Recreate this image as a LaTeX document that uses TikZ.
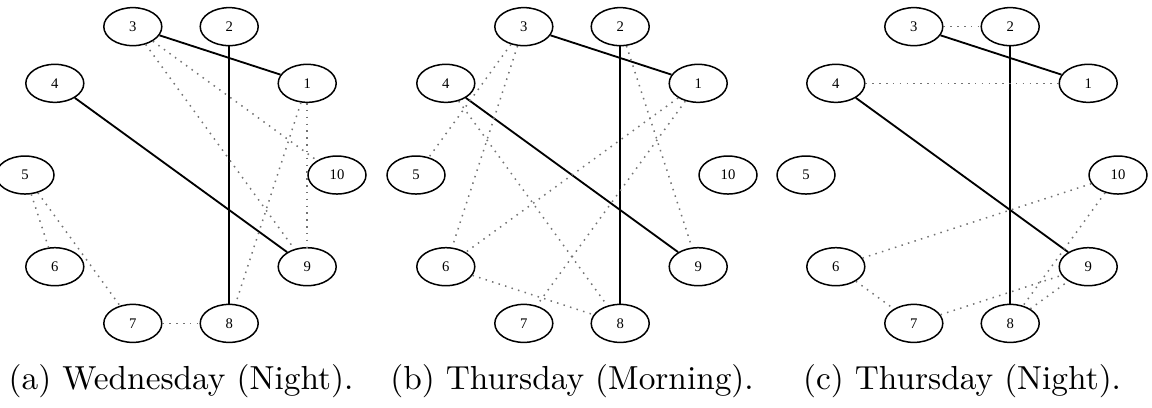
\documentclass[tikz,border=0pt]{standalone}
\usepackage{fontspec}
\newfontfamily\nodefont{Liberation Serif}
\usetikzlibrary{shapes.geometric}
\tikzset{
  vtx/.style={draw, ellipse, line width=0.45pt, inner sep=0pt,
    minimum width=17.4pt, minimum height=11.4pt,
    font=\nodefont\fontsize{4.4}{5}\selectfont},
  strong/.style={line width=0.55pt},
  weak/.style={draw=black!55, line width=0.45pt, dash pattern=on 0.45pt off 1.6pt},
  capt/.style={font=\fontsize{10}{12}\selectfont, inner sep=0pt}
}
\begin{document}
\begin{tikzpicture}[x=0.3pt,y=0.3pt]
\useasboundingbox (0,0) rectangle (1152,-407);
\foreach \p/\cx in {a/181,b/572,c/962}{
  \foreach \k in {1,...,10}{
    \node[vtx] (\p\k) at ([shift={(\cx,-175)}] 36*\k:156) {\k};
  }
  \draw[strong] (\p3) -- (\p1);
  \draw[strong] (\p2) -- (\p8);
  \draw[strong] (\p4) -- (\p9);
}
% (a)
\foreach \u/\v in {3/10,3/9,1/9,1/8,5/6,5/7,7/8}{
  \draw[weak] (a\u) -- (a\v);
}
% (b)
\foreach \u/\v in {3/5,3/6,4/8,1/6,1/7,2/9,6/8}{
  \draw[weak] (b\u) -- (b\v);
}
% (c)
\foreach \u/\v in {3/2,4/1,10/6,10/8,7/9,8/9,6/7}{
  \draw[weak] (c\u) -- (c\v);
}
\node[capt] (capa) at (181,-381) {(a) Wednesday (Night).};
\node[capt] (capb) at (572,-381) {(b) Thursday (Morning).};
\node[capt] (capc) at (962,-381) {(c) Thursday (Night).};
\end{tikzpicture}
\end{document}
